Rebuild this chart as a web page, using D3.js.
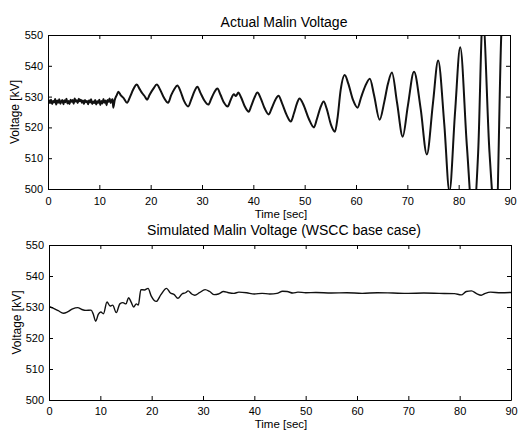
<!DOCTYPE html>
<html lang="en">
<head>
    <meta charset="UTF-8">
    <script src="https://cdnjs.cloudflare.com/ajax/libs/d3/7.8.5/d3.min.js"></script>
    <style>
        body { margin: 0; background: #fff; }
        svg { font-family: "Liberation Sans", Arial, sans-serif; }
        .axis path, .axis line { stroke: #000; }
        .axis text { fill: #000; font-size: 11px; font-family: "Liberation Sans", Arial, sans-serif; }
    </style>
</head>
<body>
<svg width="520" height="430"></svg>
<script>
    // measured Malin voltage, seconds / kV
    const actualT = [
        0, 0.2, 0.4, 0.6, 0.8, 1.0, 1.2, 1.4, 1.6, 1.8,
        2.0, 2.2, 2.4, 2.6, 2.8, 3.0, 3.2, 3.4, 3.6, 3.8,
        4.0, 4.2, 4.4, 4.6, 4.8, 5.0, 5.2, 5.4, 5.6, 5.8,
        6.0, 6.2, 6.4, 6.6, 6.8, 7.0, 7.2, 7.4, 7.6, 7.8,
        8.0, 8.2, 8.4, 8.6, 8.8, 9.0, 9.2, 9.4, 9.6, 9.8,
        10.0, 10.2, 10.4, 10.6, 10.8, 11.0, 11.2, 11.4, 11.6, 11.8,
        12.0, 12.2, 12.4, 12.6, 12.7, 13.0,
        13.4, 13.7, 14.2, 14.7, 15.4, 16.0, 16.6, 17.3, 17.8, 18.4, 18.8, 19.3,
        19.8, 20.5, 21.2, 21.8, 22.6, 23.4, 24.0, 24.6, 25.2, 25.8, 26.5, 27.3,
        27.9, 28.5, 29.1, 29.7, 30.4, 31.25, 31.8, 32.4, 33.0, 33.6, 34.3, 35.0,
        35.6, 36.2, 36.6, 37.1, 37.6, 38.4, 39.1, 39.6, 40.2, 40.8, 41.4, 42.2,
        43.0, 43.6, 44.3, 44.9, 45.6, 46.5, 47.3, 47.9, 48.5, 49.0, 49.7, 50.8,
        51.8, 52.4, 53.1, 53.7, 54.3, 55.1, 55.9, 56.4, 57.0, 57.8, 58.5, 59.4,
        60.3, 61.0, 61.8, 62.7, 63.5, 64.6, 65.5, 66.2, 67.0, 68.0, 69.1, 70.1,
        71.3, 72.6, 73.8, 75.0, 76.0, 77.2, 78.2, 79.3, 80.3, 81.6, 82.8, 83.8,
        84.7, 86.0, 87.3, 88.3, 89.0, 90.0
    ];
    const actualKV = [
        527.5, 528.8, 527.9, 529.0, 527.6, 528.6, 528.1, 529.2, 527.4, 528.7,
        528.0, 529.1, 527.7, 528.5, 528.9, 527.5, 528.8, 528.2, 529.3, 527.8,
        528.6, 527.6, 529.0, 528.3, 528.9, 527.7, 529.4, 528.4, 528.8, 527.9,
        529.3, 528.5, 529.0, 528.0, 528.7, 527.6, 528.9, 528.2, 528.6, 527.5,
        528.8, 528.1, 529.1, 527.6, 528.4, 527.9, 528.9, 527.4, 528.5, 528.0,
        529.0, 527.3, 528.6, 527.8, 529.2, 528.0, 528.7, 527.2, 528.9, 528.3,
        529.4, 527.9, 528.8, 529.1, 526.4, 528.9,
        530.5, 531.6, 530.4, 529.6, 528.0, 530.0, 532.3, 533.9, 532.6, 531.0, 530.2, 529.0,
        530.6, 532.5, 533.9, 532.4, 529.6, 528.0, 530.5, 532.4, 533.6, 531.8, 528.6, 526.8,
        529.0, 531.6, 533.2, 531.2, 528.9, 527.4, 529.3, 531.4, 532.6, 530.6, 528.0, 526.8,
        529.0, 530.8, 530.2, 531.3, 529.8, 526.6, 525.1, 527.0, 529.6, 531.3, 529.6, 526.2,
        524.2, 526.3, 529.0, 530.3, 527.8, 524.0, 521.9, 524.5, 527.8, 529.4, 527.6, 522.8,
        520.0, 522.8, 526.6, 528.4, 526.0, 521.0, 518.6, 523.0, 532.0, 537.0, 534.2, 529.0,
        526.4, 529.8, 533.4, 535.8, 530.6, 522.5, 528.2, 534.0, 537.8, 528.0, 517.0, 527.0,
        538.1, 526.0, 511.2, 528.0, 541.7, 521.0, 499.2, 525.0, 546.0, 514.0, 490.0, 512.0,
        556.0, 512.0, 488.0, 550.0, 570.0, 570.0
    ];

    // simulated Malin voltage (WSCC base case)
    const simT = [
        0, 0.8, 1.8, 2.8, 3.6, 4.6, 5.6, 6.4, 7.2, 8.2, 8.6, 9.1,
        9.6, 10.1, 10.6, 11.3, 11.9, 12.4, 13.1, 13.8, 14.4, 15.0, 15.5, 16.0,
        16.5, 17.0, 17.4, 17.9, 18.6, 19.3, 19.9, 20.9, 21.8, 22.9, 23.6, 24.4,
        25.1, 25.9, 26.6, 27.1, 27.8, 28.4, 29.3, 30.4, 31.3, 32.2, 33.0, 34.0,
        35.0, 36.0, 37.0, 38.5, 40.0, 41.5, 43.0, 44.4, 45.5, 46.4, 47.5, 48.5,
        50.0, 52.0, 55.0, 58.0, 61.0, 64.0, 67.0, 70.0, 73.0, 76.0, 79.0, 80.3,
        81.3, 82.3, 83.3, 84.2, 85.0, 86.0, 88.0, 90.0
    ];
    const simKV = [
        530.2, 529.6, 528.8, 528.0, 528.4, 529.4, 529.8, 529.2, 528.9, 529.0, 527.8, 525.4,
        527.6, 528.4, 527.8, 531.6, 530.3, 530.6, 528.2, 531.0, 531.4, 531.0, 533.0, 531.6,
        530.0, 531.0, 530.6, 535.6, 535.5, 536.0, 533.6, 531.8, 534.0, 536.0, 534.6, 534.0,
        532.8, 534.2, 534.6, 535.2, 534.2, 533.8, 534.6, 535.6, 535.0, 534.0, 534.2, 535.0,
        534.6, 534.4, 534.8, 534.6, 534.2, 534.4, 534.2, 534.4, 535.1, 535.0, 534.5, 534.8,
        534.6, 534.7, 534.5, 534.6, 534.4, 534.6, 534.5, 534.4, 534.5, 534.4, 534.3, 533.9,
        535.0, 535.2, 534.3, 533.8, 534.4, 534.8, 534.6, 534.7
    ];

    const timeTicks = d3.range(0, 91, 10);
    const voltTicks = [500, 510, 520, 530, 540, 550];

    const svg = d3.select('svg');

    drawPanel({
        id: 'top', t: actualT, v: actualKV,
        left: 48, right: 510, top: 35, bottom: 189,
        title: 'Actual Malin Voltage', titleY: 27,
        tickY: 205, xlabelY: 218, ylabelX: 19, width: 2
    });

    drawPanel({
        id: 'bot', t: simT, v: simKV,
        left: 49, right: 511, top: 245, bottom: 400,
        title: 'Simulated Malin Voltage (WSCC base case)', titleY: 235,
        tickY: 415, xlabelY: 428, ylabelX: 21, width: 1.4
    });

    function drawPanel(p) {
        const x = d3.scaleLinear().domain([0, 90]).range([p.left, p.right]);
        const y = d3.scaleLinear().domain([500, 550]).range([p.bottom, p.top]);

        svg.append('clipPath').attr('id', 'clip-' + p.id)
            .append('rect')
            .attr('x', p.left).attr('y', p.top)
            .attr('width', p.right - p.left).attr('height', p.bottom - p.top);

        const line = d3.line()
            .x((d, i) => x(p.t[i]))
            .y(d => y(d))
            .curve(d3.curveMonotoneX);

        svg.append('path')
            .datum(p.v)
            .attr('clip-path', 'url(#clip-' + p.id + ')')
            .attr('d', line)
            .attr('fill', 'none')
            .attr('stroke', '#111')
            .attr('stroke-width', p.width)
            .attr('stroke-linejoin', 'round');

        // bottom / left axes with labels, ticks pointing inward
        const xAxis = svg.append('g').attr('class', 'axis')
            .attr('transform', `translate(0,${p.bottom})`)
            .call(d3.axisBottom(x).tickValues(timeTicks).tickSize(-4).tickPadding(0).tickSizeOuter(0));
        xAxis.selectAll('text').attr('y', p.tickY - p.bottom).attr('dy', 0);

        svg.append('g').attr('class', 'axis')
            .attr('transform', `translate(${p.left},0)`)
            .call(d3.axisLeft(y).tickValues(voltTicks).tickSize(-4).tickPadding(5).tickSizeOuter(0));

        // mirrored top / right ticks
        svg.append('g').attr('class', 'axis')
            .attr('transform', `translate(0,${p.top})`)
            .call(d3.axisTop(x).tickValues(timeTicks).tickSize(-4).tickSizeOuter(0).tickFormat(''));
        svg.append('g').attr('class', 'axis')
            .attr('transform', `translate(${p.right},0)`)
            .call(d3.axisRight(y).tickValues(voltTicks).tickSize(-4).tickSizeOuter(0).tickFormat(''));

        svg.append('text')
            .attr('x', 284).attr('y', p.titleY)
            .attr('text-anchor', 'middle')
            .style('font-size', '14px')
            .text(p.title);

        svg.append('text')
            .attr('x', 281).attr('y', p.xlabelY)
            .attr('text-anchor', 'middle')
            .style('font-size', '11.5px')
            .text('Time [sec]');

        svg.append('text')
            .attr('transform', `translate(${p.ylabelX},${(p.top + p.bottom) / 2}) rotate(-90)`)
            .attr('text-anchor', 'middle')
            .style('font-size', '12px')
            .text('Voltage [kV]');
    }
</script>
</body>
</html>
